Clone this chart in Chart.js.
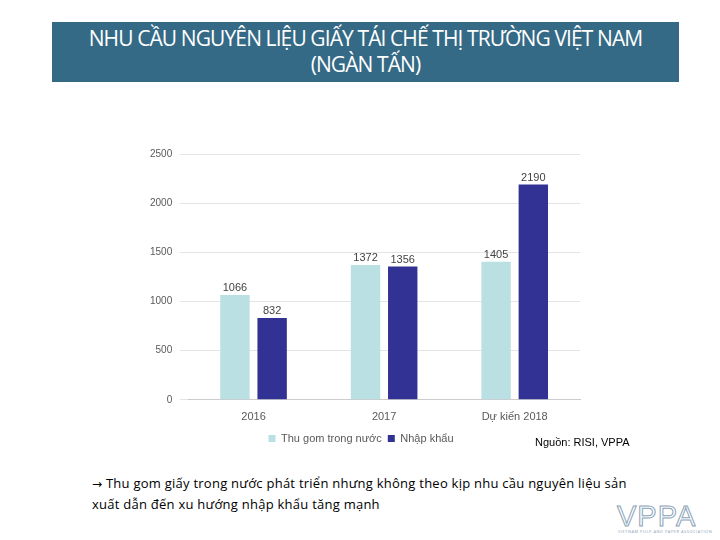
<!DOCTYPE html>
<html><head><meta charset="utf-8">
<script src="https://cdn.jsdelivr.net/npm/chart.js@4"></script>
<style>
body{margin:0;width:720px;height:540px;background:#fff;position:relative;overflow:hidden;font-family:"Open Sans",sans-serif}
#title{position:absolute;left:52px;top:22px;width:627px;height:60px;background:#346a85;color:#fff;text-align:center;font-size:21px;line-height:26px;padding-top:3px;box-sizing:border-box;font-family:"Open Sans",sans-serif;font-weight:400;letter-spacing:-0.9px}
#wrap{position:absolute;left:130px;top:140px;width:460px;height:314px}
#src{position:absolute;left:535px;top:436px;font-size:11px;font-family:"Liberation Sans",Arial;color:#000}
#note{position:absolute;left:92px;top:473px;width:565px;font-size:13px;line-height:20px;color:#000;letter-spacing:0.25px}
#logo{position:absolute;left:617px;top:500px;color:#fff;font-size:29px;font-family:"Liberation Sans";-webkit-text-stroke:1px #8aa3b8;letter-spacing:1px;font-weight:300}
#logo2{position:absolute;left:618px;top:529px;font-size:4px;color:#8aa3b8;letter-spacing:0.5px}
</style></head><body>
<div id="title">NHU CẦU NGUYÊN LIỆU GIẤY TÁI CHẾ THỊ TRƯỜNG VIỆT NAM<br>(NGÀN TẤN)</div>
<div id="wrap"><canvas id="c"></canvas></div>
<div id="src">Nguồn: RISI, VPPA</div>
<div id="note"><span style="font-family:'DejaVu Sans';font-size:12px">→</span> Thu gom giấy trong nước phát triển nhưng không theo kịp nhu cầu nguyên liệu sản xuất dẫn đến xu hướng nhập khẩu tăng mạnh</div>
<div id="logo">VPPA</div>
<div id="logo2">VIETNAM PULP AND PAPER ASSOCIATION</div>
<script>
const categories=["2016","2017","Dự kiến 2018"];
const domestic=[1066,1372,1405];
const imported=[832,1356,2190];
const ticks=[0,500,1000,1500,2000,2500];
const labelPlugin={id:'lbl',afterDatasetsDraw(ch){const c=ch.ctx;c.save();c.font='11px "Liberation Sans"';c.fillStyle='#444';c.textAlign='center';
ch.data.datasets.forEach((d,i)=>{ch.getDatasetMeta(i).data.forEach((b,j)=>{c.fillText(d.data[j],b.x,b.y-7);});});c.restore();}};
new Chart(document.getElementById('c'),{type:'bar',
data:{labels:categories,datasets:[
{label:'Thu gom trong nước',data:domestic,backgroundColor:'#bbe0e3',categoryPercentage:0.57,barPercentage:0.79},
{label:'Nhập khẩu',data:imported,backgroundColor:'#323294',categoryPercentage:0.57,barPercentage:0.79}]},
options:{responsive:true,maintainAspectRatio:false,animation:false,
layout:{padding:{top:10,right:10,left:12,bottom:0}},
plugins:{legend:{position:'bottom',labels:{boxWidth:7,boxHeight:7,padding:6,color:'#595959',font:{family:'Liberation Sans',size:11}}},tooltip:{enabled:false}},
scales:{x:{grid:{display:false},border:{color:'#ccc'},ticks:{color:'#595959',font:{family:'Liberation Sans',size:11}}},
y:{min:0,max:2500,afterBuildTicks(a){a.ticks=ticks.map(v=>({value:v}));},grid:{color:'#e4e4e4'},border:{display:false},ticks:{color:'#595959',padding:8,callback:v=>String(v),font:{family:'Liberation Sans',size:10}}}}},
plugins:[labelPlugin]});
</script></body></html>
